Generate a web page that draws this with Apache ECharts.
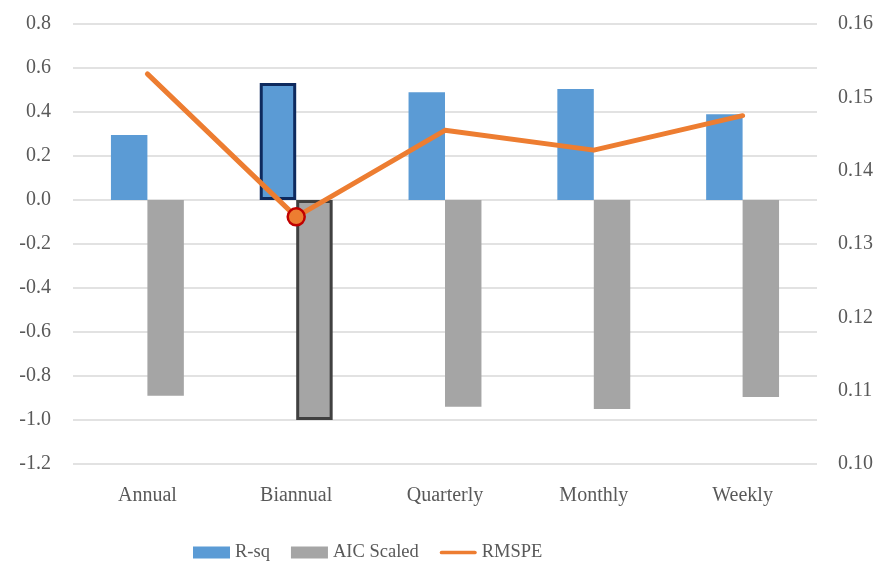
<!DOCTYPE html>
<html>
<head>
<meta charset="utf-8">
<script src="https://cdn.jsdelivr.net/npm/echarts@6/dist/echarts.min.js"></script>
<style>
  html, body { margin: 0; padding: 0; background: #fff; }
  #chart { width: 887px; height: 563px; }
</style>
</head>
<body>
<div id="chart"></div>
<script>
const categories = ['Annual', 'Biannual', 'Quarterly', 'Monthly', 'Weekly'];
const rsq = [0.295, 0.532, 0.49, 0.505, 0.39];
const aicScaled = [-0.89, -1.0, -0.94, -0.95, -0.895];
const rmspe = [0.1532, 0.1337, 0.1455, 0.1428, 0.1475];
const highlightIndex = 1;

const FONT = 'Liberation Serif';
const TEXT = '#595959';
const SIZE = 20;

const chart = echarts.init(document.getElementById('chart'));

chart.setOption({
  animation: false,
  textStyle: { fontFamily: FONT, color: TEXT },
  grid: { left: 73, right: 70, top: 24, bottom: 99 },
  legend: {
    top: 538,
    left: 188,
    itemWidth: 37,
    itemHeight: 12,
    itemGap: 21,
    textStyle: { fontFamily: FONT, fontSize: 18.5, color: TEXT },
    data: [
      { name: 'R-sq', icon: 'rect' },
      { name: 'AIC Scaled', icon: 'rect' },
      { name: 'RMSPE', icon: 'path://M5,0 L95,0 A5,5 0 0 1 95,10 L5,10 A5,5 0 0 1 5,0 Z' }
    ]
  },
  xAxis: {
    type: 'category',
    data: categories,
    axisLine: { show: false },
    axisTick: { show: false },
    axisLabel: { fontFamily: FONT, fontSize: SIZE, color: TEXT, margin: 22 }
  },
  yAxis: [
    {
      type: 'value',
      min: -1.2, max: 0.8, interval: 0.2,
      axisLine: { show: false },
      axisTick: { show: false },
      splitLine: { lineStyle: { color: '#D9D9D9', width: 1.5 } },
      axisLabel: {
        fontFamily: FONT, fontSize: SIZE, color: TEXT, margin: 22,
        formatter: v => v.toFixed(1)
      }
    },
    {
      type: 'value',
      min: 0.10, max: 0.16, interval: 0.01,
      axisLine: { show: false },
      axisTick: { show: false },
      splitLine: { show: false },
      axisLabel: {
        fontFamily: FONT, fontSize: SIZE, color: TEXT, margin: 21,
        formatter: v => v.toFixed(2)
      }
    }
  ],
  series: [
    {
      name: 'R-sq',
      type: 'bar',
      barGap: '0%',
      barCategoryGap: '51%',
      itemStyle: { color: '#5B9BD5' },
      data: rsq.map((v, i) => i === highlightIndex
        ? { value: v, itemStyle: { borderColor: '#0E2A5E', borderWidth: 3 } }
        : v)
    },
    {
      name: 'AIC Scaled',
      type: 'bar',
      itemStyle: { color: '#A5A5A5' },
      data: aicScaled.map((v, i) => i === highlightIndex
        ? { value: v, itemStyle: { borderColor: '#404040', borderWidth: 3 } }
        : v)
    },
    {
      name: 'RMSPE',
      type: 'line',
      yAxisIndex: 1,
      z: 5,
      symbol: 'none',
      itemStyle: { color: '#ED7D31' },
      lineStyle: { color: '#ED7D31', width: 5, cap: 'round', join: 'round' },
      data: rmspe.map((v, i) => i === highlightIndex
        ? {
            value: v, symbol: 'circle', symbolSize: 17,
            itemStyle: { color: '#ED7D31', borderColor: '#C00000', borderWidth: 2.5 }
          }
        : v)
    }
  ]
});
</script>
</body>
</html>
